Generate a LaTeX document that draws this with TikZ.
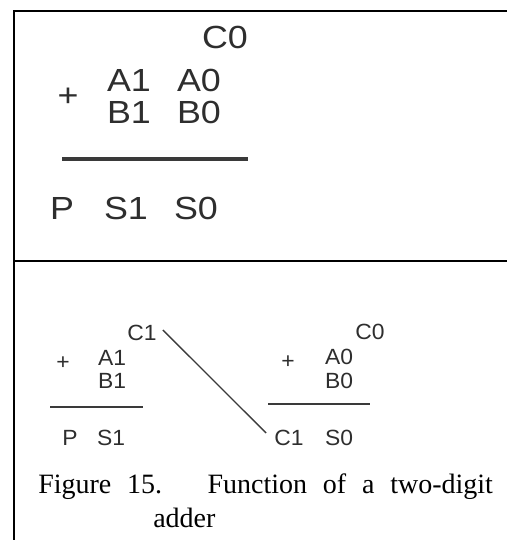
\documentclass[tikz,border=0pt]{standalone}
\usepackage{fontspec}
\setmainfont{Liberation Serif}
\usepackage{tikz}
\usetikzlibrary{positioning,calc}
\newfontfamily\bigsum[FakeStretch=1.12]{Liberation Sans}
\newfontfamily\smallsum[FakeStretch=1.04]{Liberation Sans}
\definecolor{Ink}{HTML}{2E2E2E}
\definecolor{Rule}{HTML}{3A3A3A}
\tikzset{
	bigdigit/.style={inner sep=0pt, text=Ink, font=\bigsum\fontsize{24}{24}\selectfont},
	smalldigit/.style={inner sep=0pt, text=Ink, font=\smallsum\fontsize{16.5}{16.5}\selectfont},
	frameline/.style={line width=1.5pt, black},
	sumline/.style={line width=2pt, Rule},
	carryline/.style={line width=1pt, Rule},
	captiontext/.style={inner sep=0pt, font=\fontsize{21}{25}\selectfont}
}
\begin{document}
\begin{tikzpicture}[x=0.75pt,y=-0.75pt]
			
			\useasboundingbox (0,0) rectangle (507,540);
			
			% ---------------------------------------------------------
			% FRAME
			% ---------------------------------------------------------
			
			\draw[frameline] (13,10.5) -- (507,10.5);
			\draw[frameline] (13.5,10) -- (13.5,540);
			\draw[frameline] (13,260.5) -- (507,260.5);
			
			% ---------------------------------------------------------
			% TWO-DIGIT SUM
			% ---------------------------------------------------------
			
			\node[bigdigit] (topc0) at (225,37) {C0};
			\node[bigdigit] (topplus) at (68,97) {+};
			\node[bigdigit] (topa1) at (129,80) {A1};
			\node[bigdigit] (topa0) at (199,80) {A0};
			\node[bigdigit] (topb1) at (129,112) {B1};
			\node[bigdigit] (topb0) at (199,112) {B0};
			
			\draw[sumline,line width=2.5pt] (62,159) -- (248,159);
			
			\node[bigdigit] (topp) at (62,208) {P};
			\node[bigdigit] (tops1) at (126,208) {S1};
			\node[bigdigit] (tops0) at (196,208) {S0};
			
			% ---------------------------------------------------------
			% HIGH DIGIT
			% ---------------------------------------------------------
			
			\node[smalldigit] (hic1) at (142,333) {C1};
			\node[smalldigit] (hiplus) at (63,363) {+};
			\node[smalldigit] (hia1) at (112,358) {A1};
			\node[smalldigit] (hib1) at (112,381) {B1};
			
			\draw[sumline] (50,407) -- (143,407);
			
			\node[smalldigit] (hip) at (70,438) {P};
			\node[smalldigit] (his1) at (111,438) {S1};
			
			% ---------------------------------------------------------
			% LOW DIGIT
			% ---------------------------------------------------------
			
			\node[smalldigit] (loc0) at (370,332) {C0};
			\node[smalldigit] (loplus) at (288,362) {+};
			\node[smalldigit] (loa0) at (339,357) {A0};
			\node[smalldigit] (lob0) at (339,381) {B0};
			
			\draw[sumline] (268,404) -- (370,404);
			
			\node[smalldigit] (loc1) at (289,438) {C1};
			\node[smalldigit] (los0) at (339,438) {S0};
			
			% ---------------------------------------------------------
			% CARRY
			% ---------------------------------------------------------
			
			\draw[carryline]
			([shift={(6,-3)}]hic1.east) -- ([shift={(-8,-5)}]loc1.west);
			
			% ---------------------------------------------------------
			% CAPTION
			% ---------------------------------------------------------
			
			\node[captiontext,anchor=base west] (caption) at (38,493)
			{\makebox[341pt][s]{Figure 15.\hspace{0.35em} Function of a two-digit}};
			\node[captiontext,anchor=base west] (captionend) at (153,527) {adder};
			
		\end{tikzpicture}
\end{document}
